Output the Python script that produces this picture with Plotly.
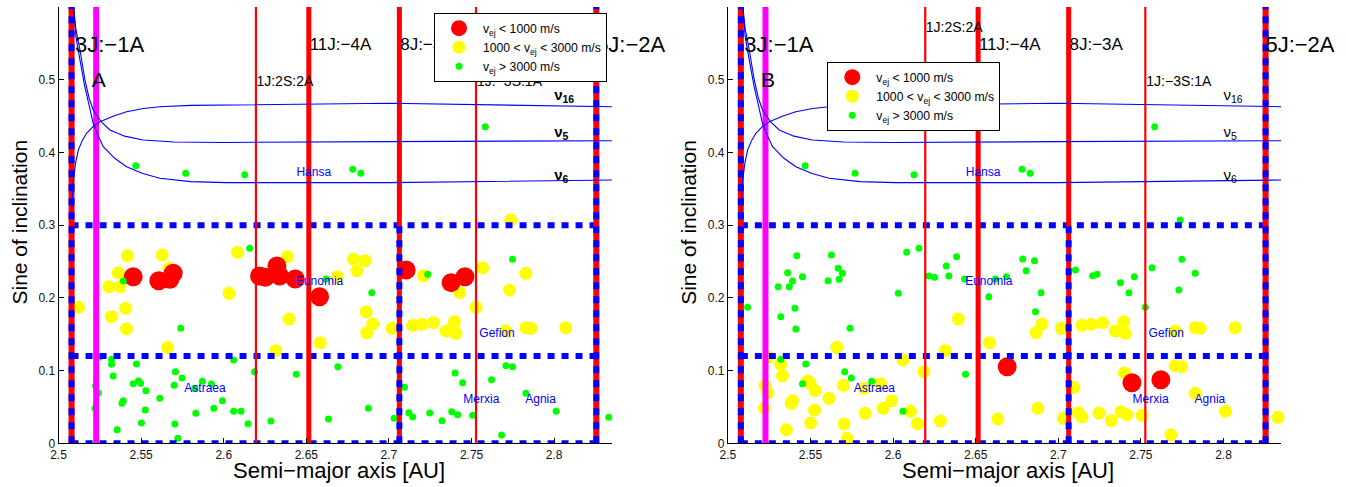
import plotly.graph_objects as go

# ---------------- data ----------------
semi_major = [
    2.5120, 2.5418, 2.5362, 2.5305, 2.5372, 2.5406, 2.5321, 2.5412, 2.5627, 2.5668,
    2.5660, 2.6083, 2.6032, 2.6385, 2.6395, 2.6315, 2.6584, 2.6687, 2.6785, 2.6856,
    2.6806, 2.6862, 2.6902, 2.6866, 2.5452, 2.5607, 2.5674, 2.5694, 2.6217, 2.6252,
    2.6322, 2.6338, 2.6433, 2.6580, 2.6157, 2.5392, 2.5740, 2.6620, 2.6896,
    2.5247, 2.5321, 2.5321, 2.5472, 2.5708, 2.5331, 2.5748, 2.5452, 2.5484, 2.5497,
    2.5700, 2.5871, 2.5926, 2.5529, 2.5241, 2.5225, 2.5613, 2.5392, 2.5384, 2.5992,
    2.5221, 2.5525, 2.5940, 2.6060, 2.6105, 2.5831, 2.5502, 2.5704, 2.6147, 2.6286,
    2.5355, 2.5722, 2.6060, 2.6187, 2.6439, 2.6691, 2.6634, 2.6876, 2.5825,
    2.7104, 2.7376, 2.7460, 2.7208, 2.7428, 2.7567, 2.7829, 2.7730, 2.7527, 2.7019,
    2.7144, 2.7200, 2.7269, 2.7396, 2.7345, 2.7406, 2.7708, 2.7829, 2.7859, 2.8070,
    2.7738, 2.7235, 2.7748, 2.7708, 2.7748, 2.7400, 2.7621, 2.7446, 2.7094, 2.7829,
    2.8012, 2.7031, 2.7120, 2.7144, 2.7247, 2.7321, 2.7380, 2.7416, 2.7507, 2.8330,
    2.7682, 2.5468, 2.5770, 2.6127, 2.6781, 2.6830, 2.7583,
]
sine_incl = [
    0.1870, 0.2581, 0.2347, 0.2155, 0.2155, 0.1857, 0.1742, 0.1572, 0.2590, 0.2407,
    0.1320, 0.2627, 0.2063, 0.2567, 0.1710, 0.1274, 0.1384, 0.2292, 0.2535, 0.2512,
    0.2375, 0.1811, 0.1641, 0.1522, 0.2292, 0.2237, 0.2255, 0.2338, 0.2301, 0.2283,
    0.2439, 0.2301, 0.2260, 0.2017, 0.2682, 0.2232, 0.1581, 0.2260, 0.2072,
    0.1183, 0.1155, 0.1086, 0.1091, 0.0985, 0.0926, 0.0898, 0.0820, 0.0857, 0.0825,
    0.0797, 0.0852, 0.0816, 0.0724, 0.0692, 0.0793, 0.0619, 0.0586, 0.0550, 0.0585,
    0.0481, 0.0458, 0.0481, 0.0440, 0.0440, 0.0412, 0.0279, 0.0266, 0.0270, 0.0307,
    0.0188, 0.0068, 0.1146, 0.0985, 0.0949, 0.1054, 0.0334, 0.0481, 0.0756,
    0.2384, 0.2210, 0.2292, 0.2306, 0.2072, 0.2416, 0.2338, 0.2109, 0.1870, 0.1581,
    0.1623, 0.1636, 0.1659, 0.1673, 0.1545, 0.1513, 0.1545, 0.1591, 0.1581, 0.1591,
    0.3072, 0.2324, 0.2531, 0.1068, 0.1054, 0.0967, 0.0875, 0.0834, 0.0770, 0.0687,
    0.0440, 0.0343, 0.0421, 0.0362, 0.0416, 0.0311, 0.0435, 0.0394, 0.0385, 0.0357,
    0.0114, 0.3818, 0.3714, 0.3695, 0.3769, 0.3714, 0.4355,
]
# ejection velocity class: r < 1000 m/s, y 1000-3000 m/s, g > 3000 m/s
vclass_A = list(
    "yyyyyyyyyy" "yyyyyyyyyy" "yyyyrrrrrr" "rrrrggggg"
    "gggggggggg" "gggggggggg" "gggggggggg" "ggggggggg"
    "rrryyyyyyy" "yyyyyyyyyy" "yggggggggg" "gggggggggg" "ggggggg"
)
vclass_B = list(
    "gggggggggg" "ygggyyyggg" "ggyygggggg" "ggggggggg"
    "ygyggyggyy" "ygyyyyyyyy" "yyygyyyyyy" "yyyygryyy"
    "gggggggggy" "yyyyyyyyyy" "gggyyyrryy" "yyyyyyyyyy" "ygggggg"
)

# secular resonance curves
nu16_a = [2.5080, 2.5089, 2.5103, 2.5120, 2.5145, 2.5170, 2.5210, 2.5251, 2.5330, 2.5412,
          2.5513, 2.5613, 2.5800, 2.6016, 2.7003, 2.8349]
nu16_s = [0.320, 0.3598, 0.385, 0.4034, 0.417, 0.4264, 0.436, 0.4424, 0.450, 0.4561,
          0.4605, 0.4630, 0.4648, 0.4653, 0.4677, 0.4630]
nu5_a = [2.5092, 2.5105, 2.5130, 2.5160, 2.5185, 2.5210, 2.5260, 2.5311, 2.5400, 2.5512,
         2.5700, 2.6000, 2.7000, 2.8349]
nu5_s = [0.598, 0.570, 0.541, 0.500, 0.475, 0.4585, 0.442, 0.431, 0.4225, 0.4172,
         0.4145, 0.4138, 0.4149, 0.4162]
nu6_a = [2.5092, 2.5105, 2.5130, 2.5160, 2.5185, 2.5210, 2.5240, 2.5271, 2.5340, 2.5412,
         2.5510, 2.5613, 2.5800, 2.6016, 2.7003, 2.8349]
nu6_s = [0.598, 0.560, 0.527, 0.490, 0.465, 0.440, 0.423, 0.408, 0.392, 0.3805,
         0.371, 0.3645, 0.3600, 0.3585, 0.3585, 0.3622]

# mean-motion resonances (a in AU)
res_border = [2.5079, 2.8255]          # 3J:-1A and 5J:-2A
res_thick = [2.6515, 2.7063]           # 11J:-4A, 8J:-3A
res_thin = [2.6195, 2.7527]            # 1J:2S:2A, 1J:-3S:1A
res_magenta = [2.5228]
box_s = [0.0, 0.12, 0.3]               # horizontal family-box boundaries
box_mid_a = [2.7063]

# labels
big_lbl = ["3J:\u22121A", "5J:\u22122A"]
big_a = [2.5100, 2.8254]
big_s = [0.5458, 0.5462]
mid_lbl = ["11J:\u22124A", "8J:\u22123A"]
mid_a = [2.6520, 2.7068]
mid_s = [0.5468, 0.5468]
small_lbl = ["1J:2S:2A", "1J:\u22123S:1A"]
small_a = [2.6198, 2.7533]
small_s_A = [0.4963, 0.4963]
small_s_B = [0.5710, 0.4963]
nu_lbl = ["\u03bd<sub>16</sub>", "\u03bd<sub>5</sub>", "\u03bd<sub>6</sub>"]
nu_a = [2.8, 2.8, 2.8]
nu_s = [0.4774, 0.4265, 0.3673]
fam_lbl = ["Hansa", "Eunomia", "Astraea", "Gefion", "Merxia", "Agnia"]
fam_a = [2.6545, 2.6580, 2.5887, 2.7654, 2.7559, 2.7918]
fam_s = [0.3718, 0.2219, 0.0751, 0.1508, 0.0600, 0.0600]
panel_lbl = ["A", "B"]
panel_a = 2.5201
panel_s = 0.4970

x_ticks = [2.5, 2.55, 2.6, 2.65, 2.7, 2.75, 2.8]
x_ticktext = ["2.5", "2.55", "2.6", "2.65", "2.7", "2.75", "2.8"]
y_ticks = [0, 0.1, 0.2, 0.3, 0.4, 0.5]
y_ticktext = ["0", "0.1", "0.2", "0.3", "0.4", "0.5"]

# ---------------- figure ----------------
W, H = 1346, 487
FONT = "Liberation Sans, Arial, Helvetica, sans-serif"
RED, YEL, GRN, BLU, MAG = "#ff0000", "#ffff00", "#00ff00", "#0000ff", "#ff00ff"

cls_style = {
    "r": dict(color=RED, size=19, name="v<sub>ej</sub> &lt; 1000 m/s", rank=1),
    "y": dict(color=YEL, size=13, name="1000 &lt; v<sub>ej</sub> &lt; 3000 m/s", rank=2),
    "g": dict(color=GRN, size=7, name="v<sub>ej</sub> &gt; 3000 m/s", rank=3),
}

fig = go.Figure()


def add_panel(ax, classes, legend_id, small_s, letter, bold_nu):
    xr, yr = ("x", "y") if ax == 1 else ("x2", "y2")
    # points: yellow, red, green drawing order
    for c in ["y", "r", "g"]:
        st = cls_style[c]
        xs = [a for a, k in zip(semi_major, classes) if k == c]
        ys = [s for s, k in zip(sine_incl, classes) if k == c]
        fig.add_trace(go.Scatter(
            x=xs, y=ys, mode="markers", xaxis=xr, yaxis=yr,
            marker=dict(color=st["color"], size=st["size"], line=dict(width=0)),
            name=st["name"], legend=legend_id, legendrank=st["rank"],
            cliponaxis=False, showlegend=True))

    def line(xs, ys, color, width, dash=None):
        fig.add_trace(go.Scatter(
            x=xs, y=ys, mode="lines", xaxis=xr, yaxis=yr, showlegend=False,
            line=dict(color=color, width=width, dash=dash), hoverinfo="skip"))

    # horizontal dashed family box lines
    for s in box_s:
        line([res_border[0], res_border[1]], [s, s], BLU, 6, "7px,7px")
    # red resonances
    for a in res_thin:
        line([a, a], [0, 0.6], RED, 2.2)
    for a in res_thick:
        line([a, a], [0, 0.6], RED, 5)
    for a in res_border:
        line([a, a], [0, 0.6], RED, 6)
    for a in res_magenta:
        line([a, a], [0, 0.6], MAG, 6)
    # blue dashed verticals
    for a in res_border:
        line([a, a], [0, 0.6], BLU, 6, "7px,7px")
    for a in box_mid_a:
        line([a, a], [0, box_s[2]], BLU, 6, "7px,7px")
    # secular resonances
    line(nu16_a, nu16_s, BLU, 1.1)
    line(nu5_a, nu5_s, BLU, 1.1)
    line(nu6_a, nu6_s, BLU, 1.1)

    def text(xs, ys, labels, size, color="#000000", pos="middle right"):
        fig.add_trace(go.Scatter(
            x=xs, y=ys, mode="text", text=labels, textposition=pos,
            xaxis=xr, yaxis=yr, showlegend=False, cliponaxis=False,
            hoverinfo="skip", textfont=dict(family=FONT, size=size, color=color)))

    text(big_a, big_s, big_lbl, 22)
    text(mid_a, mid_s, mid_lbl, 17)
    text(small_a, small_s, small_lbl, 14)
    text([panel_a], [panel_s], [letter], 21)
    nl = ["<b>%s</b>" % t for t in nu_lbl] if bold_nu else nu_lbl
    text(nu_a, nu_s, nl, 15)
    text(fam_a, fam_s, fam_lbl, 12, color=BLU, pos="middle center")


add_panel(1, vclass_A, "legend", small_s_A, panel_lbl[0], True)
add_panel(2, vclass_B, "legend2", small_s_B, panel_lbl[1], False)

axis_common = dict(
    showline=True, linecolor="#000000", linewidth=1, ticks="inside", ticklen=5,
    tickcolor="#000000", showgrid=False, zeroline=False, mirror=False,
    automargin=False,
    tickfont=dict(family=FONT, size=12, color="#111111"), layer="above traces",
)
xd1 = [58.5 / W, 612.0 / W]
xd2 = [727.8 / W, 1281.3 / W]
yd = [(H - 443.3) / H, (H - 7.1) / H]

legend_common = dict(
    xanchor="left", yanchor="top", bgcolor="white", bordercolor="#000000",
    borderwidth=1, font=dict(family=FONT, size=12.2, color="#000000"),
    itemwidth=38, tracegroupgap=0,
)

fig.update_layout(
    template="none",
    width=W, height=H, margin=dict(l=0, r=0, t=0, b=0, autoexpand=False),
    paper_bgcolor="white", plot_bgcolor="white",
    font=dict(family=FONT, color="#000000"),
    xaxis=dict(domain=xd1, range=[2.5, 2.835], tickvals=x_ticks, ticktext=x_ticktext,
               anchor="y", **axis_common),
    yaxis=dict(domain=yd, range=[0, 0.6], tickvals=y_ticks, ticktext=y_ticktext,
               anchor="x", **axis_common),
    xaxis2=dict(domain=xd2, range=[2.5, 2.835], tickvals=x_ticks, ticktext=x_ticktext,
                anchor="y2", **axis_common),
    yaxis2=dict(domain=yd, range=[0, 0.6], tickvals=y_ticks, ticktext=y_ticktext,
                anchor="x2", **axis_common),
    legend=dict(x=434 / W, y=(H - 12.7) / H, **legend_common),
    legend2=dict(x=827.3 / W, y=(H - 61.7) / H, **legend_common),
    showlegend=True,
)

# axis titles
for xc in [339.0, 1008.3]:
    fig.add_annotation(text="Semi\u2212major axis [AU]", xref="paper", yref="paper",
                       x=xc / W, y=(H - 470) / H, xanchor="center", yanchor="middle",
                       showarrow=False, font=dict(family=FONT, size=22, color="#000000"))
for xc in [18.5, 687.8]:
    fig.add_annotation(text="Sine of inclination", xref="paper", yref="paper",
                       x=xc / W, y=(H - 222) / H, xanchor="center", yanchor="middle",
                       textangle=-90, showarrow=False,
                       font=dict(family=FONT, size=21, color="#000000"))

fig.write_html("out.html")
